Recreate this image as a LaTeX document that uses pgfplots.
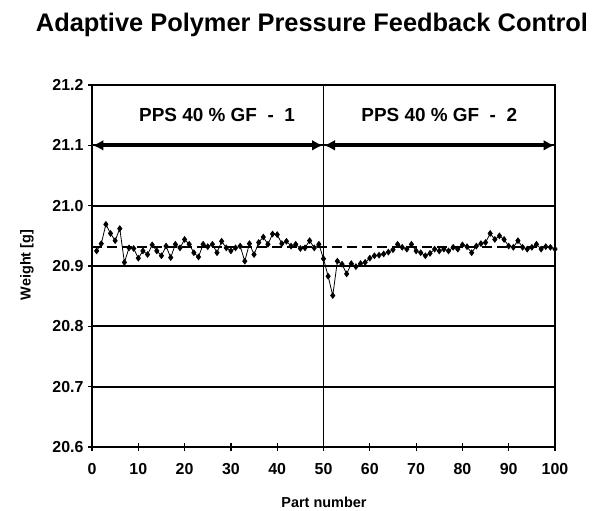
\documentclass[border=0pt]{standalone}
\usepackage{pgfplots}
\pgfplotsset{compat=1.18}
\usepackage{fontspec}
\setmainfont{Liberation Sans}
\usetikzlibrary{arrows.meta}
\pgfplotstableread{
x y
1 20.925
2 20.937
3 20.969
4 20.954
5 20.942
6 20.962
7 20.906
8 20.930
9 20.929
10 20.913
11 20.925
12 20.919
13 20.935
14 20.925
15 20.917
16 20.933
17 20.914
18 20.936
19 20.930
20 20.944
21 20.936
22 20.922
23 20.915
24 20.936
25 20.932
26 20.936
27 20.922
28 20.941
29 20.930
30 20.925
31 20.930
32 20.933
33 20.908
34 20.937
35 20.919
36 20.939
37 20.948
38 20.936
39 20.953
40 20.952
41 20.937
42 20.941
43 20.933
44 20.936
45 20.929
46 20.930
47 20.942
48 20.930
49 20.936
50 20.912
51 20.883
52 20.851
53 20.908
54 20.903
55 20.887
56 20.904
57 20.899
58 20.904
59 20.906
60 20.913
61 20.917
62 20.918
63 20.920
64 20.923
65 20.927
66 20.936
67 20.931
68 20.928
69 20.936
70 20.925
71 20.922
72 20.917
73 20.921
74 20.928
75 20.925
76 20.928
77 20.925
78 20.931
79 20.928
80 20.935
81 20.932
82 20.922
83 20.933
84 20.937
85 20.939
86 20.954
87 20.944
88 20.950
89 20.944
90 20.933
91 20.931
92 20.942
93 20.931
94 20.928
95 20.931
96 20.936
97 20.928
98 20.932
99 20.931
100 20.928
}\weight
\begin{document}
\begin{tikzpicture}
\useasboundingbox (0,0) rectangle (595bp,511bp);
\node[font=\fontsize{25.5}{30}\selectfont\bfseries, anchor=base] at (312bp,479bp) {Adaptive Polymer Pressure Feedback Control};
\node[font=\fontsize{14.5}{17}\selectfont\bfseries, anchor=base] at (324bp,4bp) {Part number};
\node[font=\fontsize{14.5}{17}\selectfont\bfseries, rotate=90] at (27bp,246bp) {Weight [g]};
\begin{axis}[
  at={(92bp,64bp)}, anchor=south west,
  scale only axis, width=463bp, height=362bp,
  xmin=0, xmax=100, ymin=20.6, ymax=21.2,
  xtick={0,10,...,100},
  ytick={20.6,20.7,20.8,20.9,21.0,21.1,21.2},
  yticklabel style={xshift=-1bp, /pgf/number format/fixed, /pgf/number format/fixed zerofill, /pgf/number format/precision=1},
  /pgf/number format/assume math mode=true,
  ticklabel style={font=\fontsize{16}{18}\selectfont\bfseries},
  xticklabel style={yshift=-9bp},
  tick align=center, major tick length=8bp,
  tick style={black, line width=1.2pt},
  axis line style={line width=1.8pt},
  xtick pos=bottom, ytick pos=left,
  ymajorgrids, grid style={black, line width=2pt},
  clip=false,
]
\addplot[black, line width=2pt, dash pattern=on 10bp off 5bp, forget plot] coordinates {(0,20.932) (100,20.932)};
\addplot[black, line width=0.8pt, mark=diamond*, mark size=2.8pt, mark options={solid, fill=black}] table[x=x,y=y] {\weight};
\addplot[black, line width=1.8pt, forget plot] coordinates {(50,20.6) (50,21.2)};
\addplot[black, line width=4pt, {Latex[length=11bp,width=11bp]}-{Latex[length=11bp,width=11bp]}, shorten <=0.5pt, shorten >=0.5pt] coordinates {(0,21.1) (50,21.1)};
\addplot[black, line width=4pt, {Latex[length=11bp,width=11bp]}-{Latex[length=11bp,width=11bp]}, shorten <=0.5pt, shorten >=0.5pt] coordinates {(50,21.1) (100,21.1)};
\node[font=\fontsize{19}{22}\selectfont\bfseries] at (axis cs:27,21.15) {PPS 40 \% GF\ \ -\ \ 1};
\node[font=\fontsize{19}{22}\selectfont\bfseries] at (axis cs:75,21.15) {PPS 40 \% GF\ \ -\ \ 2};
\end{axis}
\end{tikzpicture}
\end{document}
